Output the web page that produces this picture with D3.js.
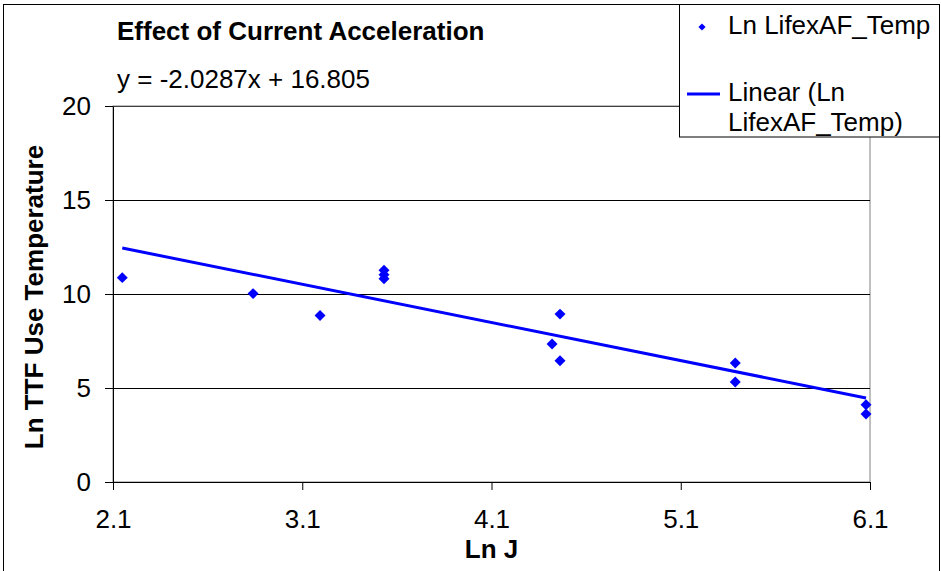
<!DOCTYPE html>
<html>
<head>
<meta charset="utf-8">
<script src="https://cdn.jsdelivr.net/npm/d3@7"></script>
<style>
  body { margin: 0; background: #fff; }
  text { font-family: "Liberation Sans", Arial, sans-serif; }
</style>
</head>
<body>
<div id="chart"></div>
<script>
// valeurs
const lnJ = [2.149, 2.84, 3.194, 3.532, 3.532, 3.532, 4.42, 4.462, 4.462, 5.388, 5.388, 6.079, 6.079]
const lnTTF = [10.87, 10.02, 8.86, 11.26, 11.03, 10.81, 7.34, 8.93, 6.45, 6.33, 5.32, 4.11, 3.62]
// droite de tendance affichée : y = -2.0287x + 16.805
const slope = -2.0287
const intercept = 16.805
const xTicks = [2.1, 3.1, 4.1, 5.1, 6.1]
const yTicks = [0, 5, 10, 15, 20]

const W = 941, H = 571
const margin = { top: 106, bottom: 89, left: 113, right: 71 }
const width = W - margin.left - margin.right
const height = H - margin.top - margin.bottom
const blue = "#0000ff"
const fs = "26px"

const root = d3.select("#chart").append("svg")
  .attr("width", W)
  .attr("height", H)

// cadre du graphique
root.append("rect")
  .attr("x", 3.5).attr("y", 4.5)
  .attr("width", 936).attr("height", 570)
  .attr("fill", "#fff").attr("stroke", "#000")

const svg = root.append("g")
  .attr("transform", "translate(" + margin.left + "," + margin.top + ")")

let x = d3.scaleLinear().domain([2.1, 6.1]).range([0, width])
let y = d3.scaleLinear().domain([0, 20]).range([height, 0])

// zone de tracé
svg.append("rect")
  .attr("width", width).attr("height", height)
  .attr("fill", "#fff").attr("stroke", "#808080")

// quadrillage horizontal
svg.selectAll(".grid")
  .data(yTicks.filter(d => d > 0))
  .enter().append("line")
  .attr("x1", 0).attr("x2", width)
  .attr("y1", d => Math.round(y(d)) + 0.5)
  .attr("y2", d => Math.round(y(d)) + 0.5)
  .attr("stroke", d => d == 20 ? "#404040" : "#000")

// axes
const yAxis = svg.append("g")
  .call(d3.axisLeft(y).tickValues(yTicks).tickSize(8).tickSizeOuter(0).tickPadding(14))
const xAxis = svg.append("g")
  .attr("transform", "translate(0," + height + ")")
  .call(d3.axisBottom(x).tickValues(xTicks).tickFormat(d3.format(".1f")).tickSize(8).tickSizeOuter(0).tickPadding(20))

;[yAxis, xAxis].forEach(a => {
  a.selectAll("path,line").attr("stroke", "#000")
  a.selectAll("text").attr("fill", "#000").style("font-size", fs)
    .style("font-family", '"Liberation Sans", Arial, sans-serif')
})

// droite de régression
const x0 = d3.min(lnJ), x1 = d3.max(lnJ)
svg.append("line")
  .attr("x1", x(x0)).attr("y1", y(slope * x0 + intercept))
  .attr("x2", x(x1)).attr("y2", y(slope * x1 + intercept))
  .attr("stroke", blue).attr("stroke-width", 3)

// points
const diamond = d3.symbol().type(d3.symbolSquare).size(60)
svg.selectAll(".pt")
  .data(lnJ.map((d, i) => [d, lnTTF[i]]))
  .enter().append("path")
  .attr("d", diamond)
  .attr("transform", d => "translate(" + x(d[0]) + "," + y(d[1]) + ") rotate(45)")
  .attr("fill", blue)

// titres
root.append("text").attr("x", 117).attr("y", 40)
  .style("font-size", fs).style("font-weight", "bold")
  .text("Effect of Current Acceleration")
root.append("text").attr("x", 117).attr("y", 88)
  .style("font-size", fs)
  .text("y = -2.0287x + 16.805")
root.append("text")
  .attr("x", margin.left + width / 2).attr("y", 558)
  .attr("text-anchor", "middle")
  .style("font-size", fs).style("font-weight", "bold")
  .text("Ln J")
root.append("text")
  .attr("transform", "translate(43,297) rotate(-90)")
  .attr("text-anchor", "middle")
  .style("font-size", fs).style("font-weight", "bold")
  .text("Ln TTF Use Temperature")

// légende
const leg = root.append("g")
leg.append("rect")
  .attr("x", 679.5).attr("y", 4.5).attr("width", 260).attr("height", 132.5)
  .attr("fill", "#fff").attr("stroke", "#000")
leg.append("path")
  .attr("d", d3.symbol().type(d3.symbolSquare).size(26))
  .attr("transform", "translate(702,27) rotate(45)")
  .attr("fill", blue)
leg.append("text").attr("x", 728).attr("y", 34).style("font-size", fs).text("Ln LifexAF_Temp")
leg.append("line")
  .attr("x1", 687).attr("x2", 720).attr("y1", 94).attr("y2", 94)
  .attr("stroke", blue).attr("stroke-width", 3)
leg.append("text").attr("x", 728).attr("y", 101).style("font-size", fs).text("Linear (Ln")
leg.append("text").attr("x", 728).attr("y", 131).style("font-size", fs).text("LifexAF_Temp)")
</script>
</body>
</html>
